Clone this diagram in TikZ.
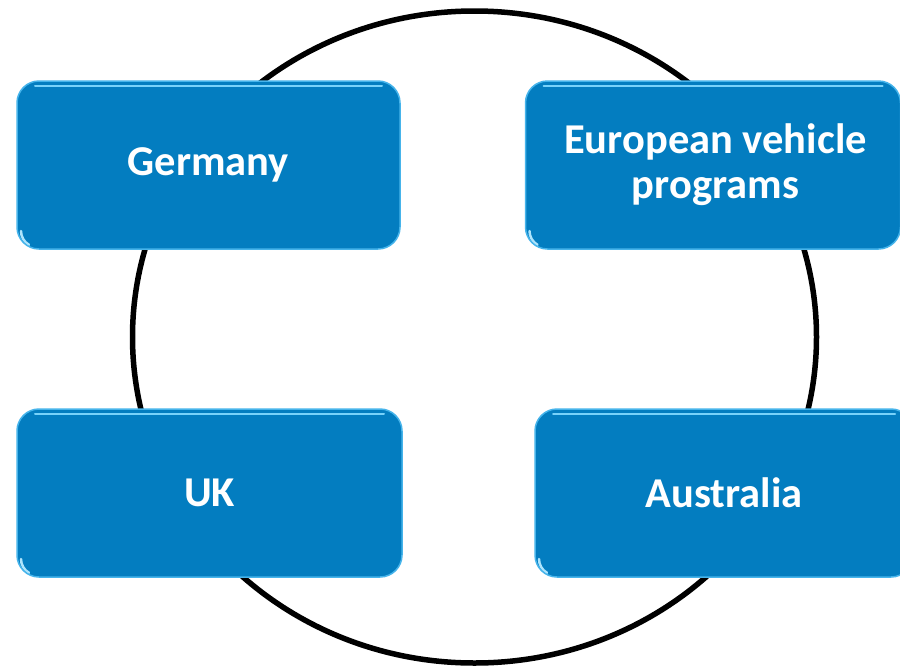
\documentclass[tikz,border=0pt]{standalone}
\usepackage{fontspec}
\newfontfamily\boxfont{Carlito}
\definecolor{boxblue}{RGB}{3,125,192}
\definecolor{rimblue}{RGB}{70,180,235}
\definecolor{glare}{RGB}{120,210,250}
\begin{document}
\begin{tikzpicture}[x=1pt,y=-1pt,
  cbox/.style={rectangle, rounded corners=22pt, fill=boxblue, draw=rimblue, line width=1.5pt,
    minimum height=168pt, text=white, font=\boxfont\bfseries\fontsize{42.5}{45}\selectfont,
    align=center, inner sep=0pt,
    path picture={\draw[glare, line width=2pt, line cap=round]
      ([xshift=18pt,yshift=-5pt]path picture bounding box.north west) --
      ([xshift=-18pt,yshift=-5pt]path picture bounding box.north east);
      \draw[glare!60!white, line width=2.5pt, line cap=round]
      ([xshift=4pt,yshift=18pt]path picture bounding box.south west) arc[start angle=180,end angle=240,radius=16pt];}},
  ring/.style={draw=black, line width=5.5pt}]
\useasboundingbox (0,0) rectangle (900,670);
\fill[white] (0,0) rectangle (900,670);
\draw[ring] (474.5,337) ellipse [x radius=342pt, y radius=326pt];
\node[cbox, minimum width=383pt] (de) at (208.5,165) {Germany};
\node[cbox, minimum width=375pt] (eu) at (713,165) {\hspace*{5pt}European vehicle\\\hspace*{5pt}programs};
\node[cbox, minimum width=385pt] (uk) at (209.5,493) {UK};
\node[cbox, minimum width=378pt] (au) at (724,493) {Australia};
\end{tikzpicture}
\end{document}
